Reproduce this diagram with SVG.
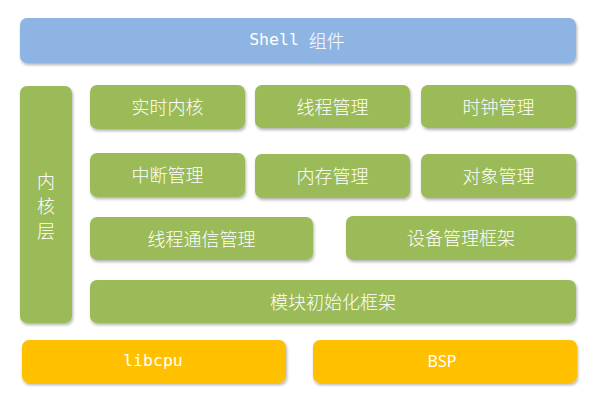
<svg xmlns="http://www.w3.org/2000/svg" width="595" height="401" viewBox="0 0 595 401">
<defs>
<filter id="sh" x="-10%" y="-20%" width="120%" height="150%">
<feDropShadow dx="1" dy="2" stdDeviation="1.5" flood-color="#000" flood-opacity="0.3"/>
</filter>
<style>
.b{fill:#8EB4E3;filter:url(#sh)}
.g{fill:#9BBB59;filter:url(#sh)}
.y{fill:#FFC000;filter:url(#sh)}
.t{fill:#fff;font-family:"Noto Sans CJK SC","Noto Sans",sans-serif;font-weight:300;font-size:18px;text-anchor:middle;dominant-baseline:central}
.m{fill:#fff;font-family:"DejaVu Sans Mono","Liberation Mono",monospace;font-size:16.5px;text-anchor:middle;dominant-baseline:central}
.s{fill:#fff;font-family:"Noto Sans","Liberation Sans",sans-serif;font-size:16px;text-anchor:middle;dominant-baseline:central}
.c{font-family:"Noto Sans CJK SC",sans-serif;font-weight:300;font-size:18px}
</style>
</defs>
<rect width="595" height="401" fill="#fff"/>
<g id="shell"><rect class="b" x="20" y="18" width="556" height="45" rx="7"/><text class="m" x="297" y="39.5">Shell <tspan class="c">组件</tspan></text></g>
<g id="kernel-layer"><rect class="g" x="20" y="86" width="52" height="237" rx="7"/><text class="t" x="46" y="180">内</text><text class="t" x="46" y="205">核</text><text class="t" x="46" y="230">层</text></g>
<g id="rt-kernel"><rect class="g" x="90" y="85" width="155" height="44" rx="7"/><text class="t" x="167.5" y="106">实时内核</text></g>
<g id="thread-mgmt"><rect class="g" x="255" y="85" width="155" height="43" rx="7"/><text class="t" x="332.5" y="105.5">线程管理</text></g>
<g id="clock-mgmt"><rect class="g" x="421" y="85" width="155" height="43" rx="7"/><text class="t" x="498.5" y="105.5">时钟管理</text></g>
<g id="irq-mgmt"><rect class="g" x="90" y="153" width="155" height="44" rx="7"/><text class="t" x="167.5" y="174">中断管理</text></g>
<g id="mem-mgmt"><rect class="g" x="255" y="154" width="155" height="44" rx="7"/><text class="t" x="332.5" y="175">内存管理</text></g>
<g id="obj-mgmt"><rect class="g" x="421" y="154" width="155" height="44" rx="7"/><text class="t" x="498.5" y="175">对象管理</text></g>
<g id="ipc-mgmt"><rect class="g" x="90" y="217" width="223" height="43" rx="7"/><text class="t" x="201.5" y="237.5">线程通信管理</text></g>
<g id="dev-mgmt"><rect class="g" x="346" y="216" width="230" height="44" rx="7"/><text class="t" x="461" y="237">设备管理框架</text></g>
<g id="module-init"><rect class="g" x="90" y="280" width="486" height="43" rx="7"/><text class="t" x="333" y="300.5">模块初始化框架</text></g>
<g id="libcpu"><rect class="y" x="22" y="340" width="264" height="43" rx="7"/><text class="m" x="153" y="360.5">libcpu</text></g>
<g id="bsp"><rect class="y" x="313" y="340" width="264" height="43" rx="7"/><text class="s" x="442" y="361">BSP</text></g>
<g id="connectors"/>
</svg>
